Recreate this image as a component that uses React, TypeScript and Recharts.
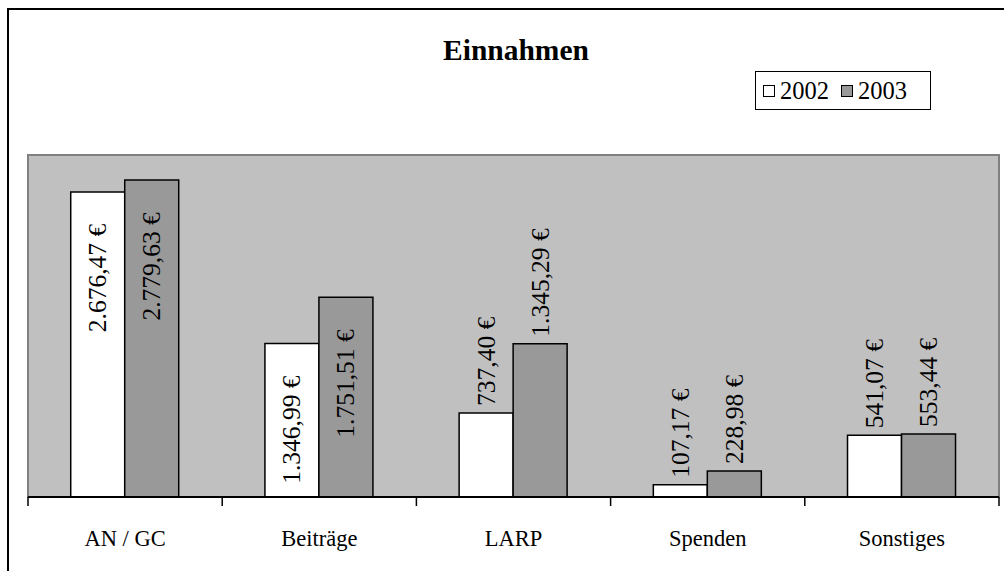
import { Bar, BarChart, LabelList, ReferenceArea, XAxis, YAxis } from 'recharts';

const categories = ['AN / GC', 'Beiträge', 'LARP', 'Spenden', 'Sonstiges'];
const values2002 = [2676.47, 1346.99, 737.4, 107.17, 541.07];
const values2003 = [2779.63, 1751.51, 1345.29, 228.98, 553.44];
const seriesNames = ['2002', '2003'];
const boundaryTicks = [0, 1, 2, 3, 4, 5];

const data = categories.map((name, i) => ({
  name,
  idx: i + 0.5,
  y2002: values2002[i],
  y2003: values2003[i],
}));

const FONT = '"Liberation Serif", "Times New Roman", serif';
const GRAY = '#999999';
const seriesColors = ['#ffffff', GRAY];
// labels of taller bars are drawn inside the bar, like the original Excel chart
const INSIDE_FROM = 1346;

function euro(v: number) {
  const [int, dec] = v.toFixed(2).split('.');
  return `${int.replace(/\B(?=(\d{3})+(?!\d))/g, '.')},${dec} €`;
}

function ValueLabel(props: any) {
  const { x, y, width, value } = props;
  const cx = Number(x) + Number(width) / 2;
  const inside = Number(value) > INSIDE_FROM;
  const ty = inside ? Number(y) + 32 : Number(y) - 7;
  return (
    <text
      x={cx}
      y={ty}
      transform={`rotate(-90 ${cx} ${ty})`}
      textAnchor={inside ? 'end' : 'start'}
      dominantBaseline="central"
      fontFamily={FONT}
      fontSize={25.5}
      fill="#000"
    >
      {euro(Number(value))}
    </text>
  );
}

function LegendBox() {
  return (
    <div
      style={{
        position: 'absolute',
        left: 755,
        top: 71,
        width: 176,
        height: 39,
        border: '1.5px solid #000',
        background: '#fff',
        display: 'flex',
        alignItems: 'center',
        boxSizing: 'border-box',
        paddingLeft: 7,
        fontFamily: FONT,
        fontSize: 24.5,
        color: '#000',
      }}
    >
      {seriesNames.map((label, i) => (
        <span key={label} style={{ display: 'flex', alignItems: 'center', marginRight: 12 }}>
          <span
            style={{
              width: 12,
              height: 12,
              border: '1.5px solid #000',
              background: seriesColors[i],
              marginRight: 5,
              boxSizing: 'border-box',
            }}
          />
          {label}
        </span>
      ))}
    </div>
  );
}

export default function App() {
  return (
    <div
      style={{
        position: 'absolute',
        left: 0,
        top: 0,
        width: 1004,
        height: 571,
        overflow: 'hidden',
        background: '#fff',
      }}
    >
      <div
        style={{
          position: 'absolute',
          left: 7,
          top: 8,
          width: 1020,
          height: 600,
          borderLeft: '2px solid #000',
          borderTop: '2px solid #000',
        }}
      />
      <div
        style={{
          position: 'absolute',
          left: 0,
          width: 1032,
          top: 34,
          textAlign: 'center',
          fontFamily: FONT,
          fontWeight: 'bold',
          fontSize: 29.5,
          color: '#000',
        }}
      >
        Einnahmen
      </div>
      <BarChart
        width={1004}
        height={571}
        data={data}
        margin={{ top: 155, right: 5, bottom: 0, left: 28 }}
        barCategoryGap="22%"
        barGap={0}
        style={{ position: 'absolute', left: 0, top: 0 }}
      >
        <XAxis
          xAxisId="b"
          dataKey="name"
          height={65}
          axisLine={false}
          tickLine={false}
          tickSize={0}
          tickMargin={24}
          tick={{ fontFamily: FONT, fontSize: 22.5, fill: '#000' }}
          interval={0}
        />
        <XAxis
          xAxisId="a"
          type="number"
          dataKey="idx"
          domain={[0, 5]}
          ticks={boundaryTicks}
          allowDataOverflow
          tickFormatter={() => ''}
          tickSize={9}
          height={9}
          axisLine={{ stroke: '#000', strokeWidth: 2 }}
          tickLine={{ stroke: '#000', strokeWidth: 1.5 }}
        />
        <YAxis hide domain={[0, 3000]} />
        <ReferenceArea
          xAxisId="a"
          y1={0}
          y2={3000}
          fill="#c0c0c0"
          fillOpacity={1}
          stroke="#808080"
          strokeWidth={2}
        />
        <Bar xAxisId="b" dataKey="y2002" name={seriesNames[0]} fill={seriesColors[0]} stroke="#000" strokeWidth={1.5} isAnimationActive={false}>
          <LabelList dataKey="y2002" content={ValueLabel} />
        </Bar>
        <Bar xAxisId="b" dataKey="y2003" name={seriesNames[1]} fill={seriesColors[1]} stroke="#000" strokeWidth={1.5} isAnimationActive={false}>
          <LabelList dataKey="y2003" content={ValueLabel} />
        </Bar>
      </BarChart>
      <LegendBox />
    </div>
  );
}
